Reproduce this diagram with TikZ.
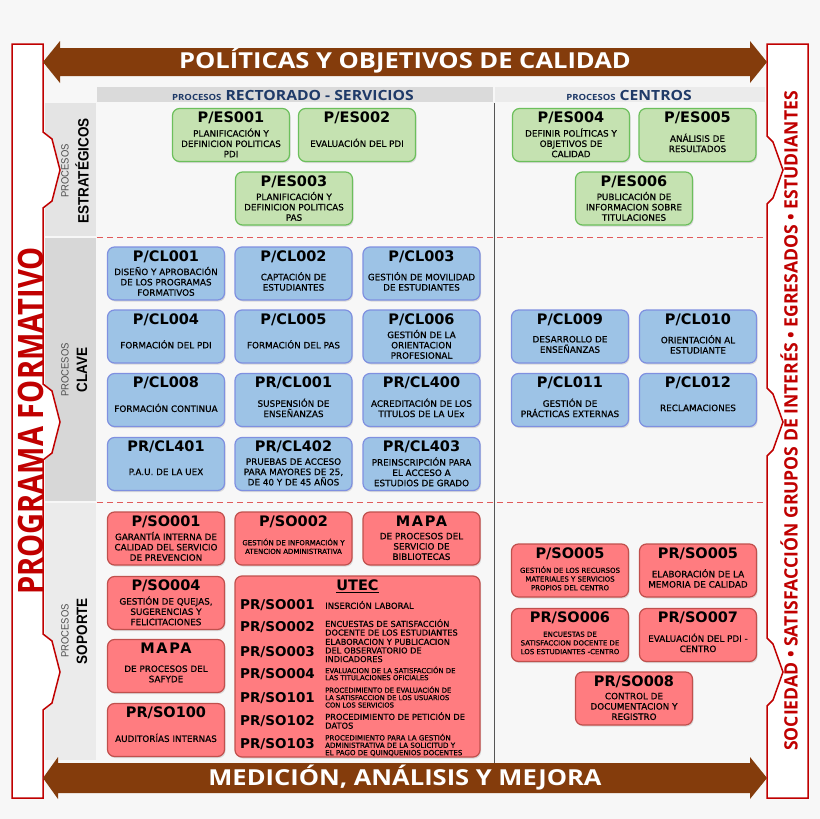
\documentclass[tikz,border=0pt]{standalone}
\usepackage{fontspec}
\setmainfont{DejaVu Sans}
\newfontfamily\descfont{DejaVu Sans}[FakeBold=0.7]
\newfontfamily\headfont{Open Sans}[FakeStretch=1.16]
\newfontfamily\barfont{Open Sans}[FakeStretch=1.12]
\newfontfamily\leftfont{Open Sans}[FakeStretch=0.83]
\newfontfamily\rightfont{Open Sans}[FakeStretch=0.95]
\newfontfamily\labfont{Liberation Sans}[FakeStretch=0.9]
\newfontfamily\mapafont{DejaVu Sans}[LetterSpace=12]
\usepackage{tikz}
\usetikzlibrary{positioning, shadows}

\definecolor{pagebg}{HTML}{F7F7F7}
\definecolor{labstrat}{HTML}{E4E4E4}
\definecolor{labclave}{HTML}{D7D7D7}
\definecolor{labsop}{HTML}{EBEBEB}
\definecolor{barleft}{HTML}{DADADA}
\definecolor{barright}{HTML}{EBEBEB}
\definecolor{hdrblue}{HTML}{1F3A68}
\definecolor{brownarr}{HTML}{843C0C}
\definecolor{redline}{HTML}{C00000}
\definecolor{dashred}{HTML}{E05A5A}
\definecolor{divgray}{HTML}{555555}
\definecolor{esfill}{HTML}{C5E2B1}
\definecolor{esline}{HTML}{6CBF5C}
\definecolor{clfill}{HTML}{9DC3E6}
\definecolor{clline}{HTML}{7F90E0}
\definecolor{sofill}{HTML}{FF7C80}
\definecolor{soline}{HTML}{C0504D}

\newcommand{\fs}[2]{\fontsize{#1}{#2}\selectfont}

\tikzset{
  pbox/.style={rounded corners=7pt, line width=1.2pt, minimum width=117pt, minimum height=53pt, inner sep=0pt,
    drop shadow={opacity=0.25, shadow xshift=1pt, shadow yshift=-1.5pt}},
  es/.style={pbox, fill=esfill, draw=esline},
  cl/.style={pbox, fill=clfill, draw=clline},
  so/.style={pbox, fill=sofill, draw=soline},
  code/.style={font=\bfseries\fs{14.5}{16}, inner sep=0pt},
  desc/.style={font=\descfont\fs{8.8}{10.3}, align=center, inner sep=0pt},
  sdesc/.style={font=\descfont\fs{7}{8.7}, align=center, inner sep=0pt},
  ucode/.style={font=\bfseries\fs{13.5}{14}, anchor=west, inner sep=0pt},
  udesc/.style={anchor=west, align=left, inner sep=0pt},
  strip/.style={fill=white, draw=redline, line width=1.5pt, line join=miter},
  sepline/.style={draw=dashred, line width=1pt, dash pattern=on 6pt off 4pt},
  sidelab/.style={rotate=90, inner sep=0pt},
}

% box + code + text
\newcommand{\procbox}[6][desc]{%
  \node[#3] (#2) at (#4) {};
  \node[code, below=4pt of #2.north] (#2-code) {#5};
  \node[#1, yshift=-35pt] (#2-text) at (#2.north) {#6};
}

\begin{document}
\begin{tikzpicture}[x=1pt, y=1pt]

\useasboundingbox (0,0) rectangle (820,-819);
\fill[pagebg] (0,0) rectangle (820,-819);

% --- Label column and header bars ---
\fill[labstrat] (45,-103) rectangle (96,-236);
\fill[labclave] (45,-238) rectangle (96,-501);
\fill[labsop] (45,-503) rectangle (96,-760);
\fill[barleft] (97,-87) rectangle (493,-102);
\fill[barright] (495,-87) rectangle (765,-102);

\node[anchor=base, font=\barfont\bfseries\fs{14}{14}, text=hdrblue] (hdr-rs) at (293,-100)
  {{\fs{8.5}{9}PROCESOS} RECTORADO - SERVICIOS};
\node[anchor=base, font=\barfont\bfseries\fs{14}{14}, text=hdrblue] (hdr-cen) at (629,-100)
  {{\fs{8.5}{9}PROCESOS} CENTROS};

% --- Divider and section lines ---
\draw[divgray, line width=0.8pt] (494,-103) -- (494,-765);
\draw[sepline] (97,-237) -- (765,-237);
\draw[sepline] (97,-502) -- (765,-502);

\node[sidelab, font=\labfont\fs{10.5}{11}, text=black!70] (lab-es-p) at (65,-171) {PROCESOS};
\node[sidelab, font=\labfont\bfseries\fs{15}{15}] (lab-es) at (82,-171) {ESTRATÉGICOS};
\node[sidelab, font=\labfont\fs{10.5}{11}, text=black!70] (lab-cl-p) at (65,-370) {PROCESOS};
\node[sidelab, font=\labfont\bfseries\fs{15}{15}] (lab-cl) at (82,-370) {CLAVE};
\node[sidelab, font=\labfont\fs{10.5}{11}, text=black!70] (lab-so-p) at (65,-631) {PROCESOS};
\node[sidelab, font=\labfont\bfseries\fs{15}{15}] (lab-so) at (82,-631) {SOPORTE};

% --- Side strips ---
\filldraw[strip] (12,-44) -- (43,-44)
  -- (43,-132) -- (52,-139) -- (60,-170) -- (52,-201) -- (43,-208)
  -- (43,-384) -- (52,-391) -- (60,-422) -- (52,-453) -- (43,-460)
  -- (43,-634) -- (52,-641) -- (60,-672) -- (52,-703) -- (43,-710)
  -- (43,-798) -- (12,-798) -- cycle;
\filldraw[strip] (767,-44) -- (808,-44) -- (808,-798) -- (767,-798)
  -- (767,-706) -- (773,-700) -- (783,-672) -- (773,-644) -- (767,-638)
  -- (767,-456) -- (773,-450) -- (783,-422) -- (773,-394) -- (767,-388)
  -- (767,-204) -- (773,-198) -- (783,-170) -- (773,-142) -- (767,-136) -- cycle;

\node[sidelab, font=\leftfont\bfseries\fs{35}{35}, text=redline] (progform) at (30.5,-421) {PROGRAMA FORMATIVO};
\node[sidelab, font=\rightfont\bfseries\fs{18.5}{18.5}, text=redline] (grupos) at (789,-421)
  {SOCIEDAD • SATISFACCIÓN GRUPOS DE INTERÉS • EGRESADOS • ESTUDIANTES};

% --- Brown arrows ---
\fill[brownarr] (43,-62) -- (60,-41) -- (60,-48) -- (750,-48) -- (750,-41) -- (767,-62)
  -- (750,-83) -- (750,-76) -- (60,-76) -- (60,-83) -- cycle;
\fill[brownarr] (43,-778) -- (58,-757) -- (58,-763) -- (750,-763) -- (750,-757) -- (767,-778)
  -- (750,-799) -- (750,-793) -- (58,-793) -- (58,-799) -- cycle;
\node[anchor=base, font=\headfont\bfseries\fs{22}{22}, text=white] (politicas) at (405,-68.5)
  {POLÍTICAS Y OBJETIVOS DE CALIDAD};
\node[anchor=base, font=\headfont\bfseries\fs{22}{22}, text=white] (medicion) at (405,-785)
  {MEDICIÓN, ANÁLISIS Y MEJORA};

% --- Procesos estrategicos ---
\procbox{es1}{es}{231,-135}{P/ES001}{PLANIFICACIÓN Y\\DEFINICION POLITICAS\\PDI}
\procbox{es2}{es}{357,-135}{P/ES002}{EVALUACIÓN DEL PDI}
\procbox{es3}{es}{294,-198.5}{P/ES003}{PLANIFICACIÓN Y\\DEFINICION POLITICAS\\PAS}
\procbox{es4}{es}{571,-135}{P/ES004}{DEFINIR POLÍTICAS Y\\OBJETIVOS DE\\CALIDAD}
\procbox{es5}{es}{697.5,-135}{P/ES005}{ANÁLISIS DE\\RESULTADOS}
\procbox{es6}{es}{634,-198.5}{P/ES006}{PUBLICACIÓN DE\\INFORMACION SOBRE\\TITULACIONES}

% --- Procesos clave ---
\procbox{cl1}{cl}{166,-273.5}{P/CL001}{DISEÑO Y APROBACIÓN\\DE LOS PROGRAMAS\\FORMATIVOS}
\procbox{cl2}{cl}{293.5,-273.5}{P/CL002}{CAPTACIÓN DE\\ESTUDIANTES}
\procbox{cl3}{cl}{421.5,-273.5}{P/CL003}{GESTIÓN DE MOVILIDAD\\DE ESTUDIANTES}
\procbox{cl4}{cl}{166,-336.5}{P/CL004}{FORMACIÓN DEL PDI}
\procbox{cl5}{cl}{293.5,-336.5}{P/CL005}{FORMACIÓN DEL PAS}
\procbox{cl6}{cl}{421.5,-336.5}{P/CL006}{GESTIÓN DE LA\\ORIENTACION\\PROFESIONAL}
\procbox{cl8}{cl}{166,-400}{P/CL008}{FORMACIÓN CONTINUA}
\procbox{prcl1}{cl}{293.5,-400}{PR/CL001}{SUSPENSIÓN DE\\ENSEÑANZAS}
\procbox{prcl400}{cl}{421.5,-400}{PR/CL400}{ACREDITACIÓN DE LOS\\TITULOS DE LA UEx}
\procbox{prcl401}{cl}{166,-464}{PR/CL401}{P.A.U. DE LA UEX}
\procbox{prcl402}{cl}{293.5,-464}{PR/CL402}{PRUEBAS DE ACCESO\\PARA MAYORES DE 25,\\DE 40 Y DE 45 AÑOS}
\procbox{prcl403}{cl}{421.5,-464}{PR/CL403}{PREINSCRIPCIÓN PARA\\EL ACCESO A\\ESTUDIOS DE GRADO}
\procbox{cl9}{cl}{570,-336.5}{P/CL009}{DESARROLLO DE\\ENSEÑANZAS}
\procbox{cl10}{cl}{698,-336.5}{P/CL010}{ORIENTACIÓN AL\\ESTUDIANTE}
\procbox{cl11}{cl}{570,-400}{P/CL011}{GESTIÓN DE\\PRÁCTICAS EXTERNAS}
\procbox{cl12}{cl}{698,-400}{P/CL012}{RECLAMACIONES}

% --- Procesos soporte ---
\procbox{so1}{so}{166,-538.5}{P/SO001}{GARANTÍA INTERNA DE\\CALIDAD DEL SERVICIO\\DE PREVENCION}
\procbox[sdesc]{so2}{so}{293.5,-538.5}{P/SO002}{GESTIÓN DE INFORMACIÓN Y\\ATENCION ADMINISTRATIVA}
\procbox{mapabib}{so}{421.5,-538.5}{{\mapafont MAPA}}{DE PROCESOS DEL\\SERVICIO DE\\BIBLIOTECAS}
\procbox{so4}{so}{166,-603}{P/SO004}{GESTIÓN DE QUEJAS,\\SUGERENCIAS Y\\FELICITACIONES}
\procbox{mapasaf}{so}{166,-666}{{\mapafont MAPA}}{DE PROCESOS DEL\\SAFYDE}
\procbox{prso100}{so}{166,-730}{PR/SO100}{AUDITORÍAS INTERNAS}
\procbox[sdesc]{so5}{so}{570,-570.5}{P/SO005}{GESTIÓN DE LOS RECURSOS\\MATERIALES Y SERVICIOS\\PROPIOS DEL CENTRO}
\procbox{prso5}{so}{698,-570.5}{PR/SO005}{ELABORACIÓN DE LA\\MEMORIA DE CALIDAD}
\procbox[sdesc]{prso6}{so}{570,-635}{PR/SO006}{ENCUESTAS DE\\SATISFACCION DOCENTE DE\\LOS ESTUDIANTES -CENTRO}
\procbox{prso7}{so}{698,-635}{PR/SO007}{EVALUACIÓN DEL PDI -\\CENTRO}
\procbox{prso8}{so}{634,-698.5}{PR/SO008}{CONTROL DE\\DOCUMENTACION Y\\REGISTRO}

% UTEC group
\node[so, minimum width=245pt, minimum height=181pt] (utec) at (357.5,-666.5) {};
\node[code, below=4pt of utec.north] (utec-title) {\underline{UTEC}};
\node[ucode] (u1) at (240,-605) {PR/SO001};
\node[udesc, font=\descfont\fs{8.5}{9}] (u1-text) at (325,-605) {INSERCIÓN LABORAL};
\node[ucode] (u2) at (240,-627) {PR/SO002};
\node[udesc, font=\descfont\fs{8.2}{8.6}] (u2-text) at (325,-627.5) {ENCUESTAS DE SATISFACCIÓN\\DOCENTE DE LOS ESTUDIANTES};
\node[ucode] (u3) at (240,-652) {PR/SO003};
\node[udesc, font=\descfont\fs{8.2}{8.6}] (u3-text) at (325,-650.5) {ELABORACION Y PUBLICACION\\DEL OBSERVATORIO DE\\INDICADORES};
\node[ucode] (u4) at (240,-674) {PR/SO004};
\node[udesc, font=\descfont\fs{6.9}{7}] (u4-text) at (325,-673.5) {EVALUACION DE LA SATISFACCIÓN DE\\LAS TITULACIONES OFICIALES};
\node[ucode] (u5) at (240,-698) {PR/SO101};
\node[udesc, font=\descfont\fs{6.8}{7.4}] (u5-text) at (325,-697) {PROCEDIMIENTO DE EVALUACIÓN DE\\LA SATISFACCION DE LOS USUARIOS\\CON LOS SERVICIOS};
\node[ucode] (u6) at (240,-721) {PR/SO102};
\node[udesc, font=\descfont\fs{8.3}{8.8}] (u6-text) at (325,-720.5) {PROCEDIMIENTO DE PETICIÓN DE\\DATOS};
\node[ucode] (u7) at (240,-744) {PR/SO103};
\node[udesc, font=\descfont\fs{7.1}{7.4}] (u7-text) at (325,-745) {PROCEDIMIENTO PARA LA GESTIÓN\\ADMINISTRATIVA DE LA SOLICITUD Y\\EL PAGO DE QUINQUENIOS DOCENTES};

\end{tikzpicture}
\end{document}
